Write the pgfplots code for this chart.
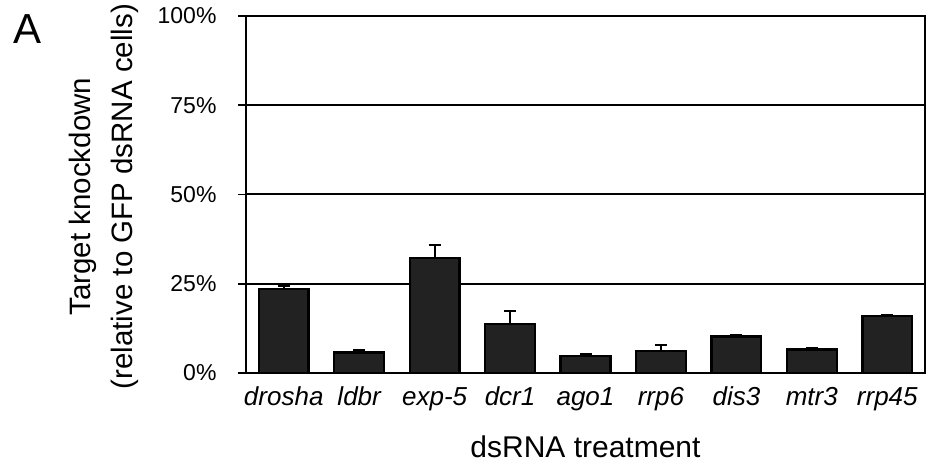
\documentclass[border=0pt]{standalone}
\usepackage{pgfplots}
\pgfplotsset{compat=1.18}
\usepackage{fontspec}
\setmainfont{Liberation Sans}
\definecolor{barfill}{HTML}{222222}
\begin{document}
\begin{tikzpicture}[x=1pt,y=1pt]
\useasboundingbox (0,0) rectangle (926,466);
\node[font=\fontsize{42}{42}\selectfont] at (28,437) {A};
\begin{axis}[
  at={(246pt,93pt)}, anchor=south west,
  scale only axis, width=679pt, height=357pt,
  xmin=-0.5, xmax=8.5, ymin=0, ymax=100,
  axis line style={line width=2pt},
  xtick={0,...,8},
  xticklabels={drosha,ldbr,exp-5,dcr1,ago1,rrp6,dis3,mtr3,rrp45},
  x tick style={draw=none},
  minor xtick={-0.5,0.5,...,8.5},
  minor x tick style={line width=1.6pt, black},
  minor tick length=5pt,
  ytick={0,25,50,75,100},
  yticklabels={0\%,25\%,50\%,75\%,100\%},
  y tick style={line width=1.6pt, black},
  major tick length=8pt,
  tick align=outside,
  ymajorgrids, grid style={line width=2pt, black},
  xticklabel style={font=\fontsize{26}{26}\selectfont\itshape, text height=19pt, text depth=6pt, yshift=-2pt},
  yticklabel style={font=\fontsize{23}{23}\selectfont, xshift=-18pt},
  xlabel={dsRNA treatment},
  xlabel style={font=\fontsize{30}{30}\selectfont, at={(axis description cs:0.5,-0.207)}, anchor=center},
  ylabel={Target knockdown\\(relative to GFP dsRNA cells)},
  ylabel style={font=\fontsize{29.5}{42}\selectfont, align=center, at={(axis description cs:-0.209,0.494)}, anchor=center},
  clip=false,
]
\addplot[ybar, bar width=0.66, fill=barfill, draw=black, line width=2.4pt,
  error bars/.cd, y dir=plus, y explicit,
  error bar style={line width=2.2pt, black},
  error mark options={rotate=90, mark size=6pt, line width=2.6pt, black}]
  table[x=x, y=y, y error=e] {
x y e
0 23.6 0.8
1 5.7 0.6
2 32.2 3.7
3 13.7 3.7
4 4.8 0.4
5 6.2 1.6
6 10.2 0.3
7 6.6 0.3
8 16.0 0.3
};
\end{axis}
\end{tikzpicture}
\end{document}
